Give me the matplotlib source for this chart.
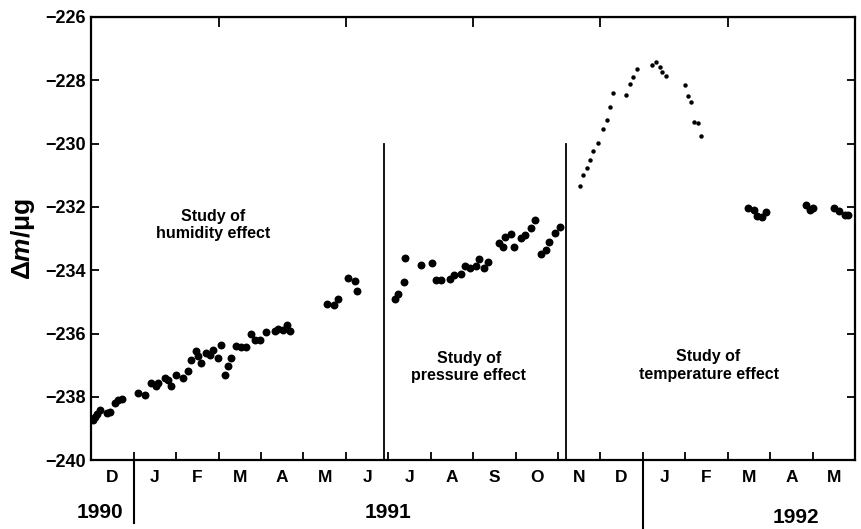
import matplotlib.pyplot as plt
import numpy as np

plt.rcParams['font.family'] = ['Liberation Sans', 'DejaVu Sans']
plt.rcParams['font.weight'] = 'bold'
plt.rcParams['mathtext.fontset'] = 'custom'
plt.rcParams['mathtext.rm'] = 'Liberation Sans:bold'
plt.rcParams['mathtext.it'] = 'Liberation Sans:bold:italic'

# czas w miesiacach od 1 XII 1990, masa w ug
hum_t = [0.03, 0.08, 0.14, 0.2, 0.36, 0.45, 0.55, 0.63, 0.72, 1.1, 1.27, 1.41, 1.53,
         1.58, 1.74, 1.81, 1.88, 2.0, 2.16, 2.28, 2.35, 2.47, 2.52, 2.59, 2.71, 2.8,
         2.87, 2.99, 3.06, 3.16, 3.23, 3.3, 3.41, 3.53, 3.65, 3.77, 3.86, 3.98, 4.12,
         4.33, 4.4, 4.52, 4.61, 4.68, 5.55, 5.71, 5.81, 6.06, 6.22, 6.27]
hum_dm = [-238.72, -238.62, -238.55, -238.42, -238.52, -238.48, -238.2, -238.1, -238.06,
          -237.88, -237.95, -237.57, -237.66, -237.57, -237.41, -237.47, -237.67, -237.31,
          -237.41, -237.19, -236.84, -236.56, -236.72, -236.94, -236.62, -236.68, -236.52,
          -236.78, -236.36, -237.31, -237.03, -236.78, -236.4, -236.43, -236.43, -236.02,
          -236.21, -236.21, -235.96, -235.93, -235.84, -235.9, -235.74, -235.93,
          -235.06, -235.09, -234.9, -234.26, -234.33, -234.65]

pres_t = [7.15, 7.22, 7.36, 7.4, 7.76, 8.02, 8.12, 8.24, 8.45, 8.54, 8.71, 8.8, 8.92,
          9.06, 9.15, 9.25, 9.36, 9.62, 9.71, 9.76, 9.9, 9.97, 10.14, 10.23, 10.36,
          10.45, 10.61, 10.71, 10.8, 10.92, 11.04]
pres_dm = [-234.91, -234.75, -234.38, -233.62, -233.83, -233.77, -234.3, -234.3, -234.27,
           -234.15, -234.11, -233.86, -233.93, -233.86, -233.63, -233.93, -233.74, -233.15,
           -233.28, -232.96, -232.87, -233.28, -232.99, -232.9, -232.68, -232.4, -233.5,
           -233.37, -233.12, -232.83, -232.64]

temp_t = [11.51, 11.6, 11.69, 11.76, 11.83, 11.94, 12.06, 12.16, 12.22, 12.29, 12.61,
          12.7, 12.77, 12.86, 13.21, 13.3, 13.4, 13.45, 13.54, 13.99, 14.06, 14.13, 14.21,
          14.3, 14.36]
temp_dm = [-231.34, -230.99, -230.77, -230.51, -230.23, -229.97, -229.53, -229.24, -228.83,
           -228.39, -228.48, -228.13, -227.91, -227.66, -227.53, -227.43, -227.59, -227.75,
           -227.87, -228.15, -228.5, -228.69, -229.32, -229.35, -229.76]

late_t = [15.49, 15.61, 15.7, 15.82, 15.91, 16.84, 16.93, 17.0, 17.5, 17.62, 17.76, 17.83]
late_dm = [-232.03, -232.1, -232.28, -232.31, -232.15, -231.95, -232.11, -232.05, -232.04,
           -232.13, -232.26, -232.26]

months = ['D', 'J', 'F', 'M', 'A', 'M', 'J', 'J', 'A', 'S', 'O', 'N', 'D', 'J', 'F', 'M', 'A', 'M']
years = ['1990', '1991', '1992']
year_x = [0.76, 7.0, 16.6]
year_start = [1, 13]
study_lines = [6.9, 11.19]

fig = plt.figure(figsize=(8.61, 5.29), dpi=100)
ax = fig.add_axes([0.106, 0.130, 0.887, 0.838])

ax.plot(hum_t, hum_dm, 'o', color='black', ms=5.7, mew=0)
ax.plot(pres_t, pres_dm, 'o', color='black', ms=5.7, mew=0)
ax.plot(late_t, late_dm, 'o', color='black', ms=5.7, mew=0)
ax.plot(temp_t, temp_dm, 'o', color='black', ms=3.2, mew=0)

for xl in study_lines:
    ax.plot([xl, xl], [-240, -230], color='black', lw=1.3)

ax.set_xlim(0, 18)
ax.set_ylim(-240, -226)
ax.set_yticks(np.arange(-240, -225, 2))
ax.set_xticks(np.arange(1, 18))
ax.set_xticklabels([])
ax.tick_params(axis='both', direction='in', length=6, width=1.3, labelsize=13)
ax.tick_params(axis='y', right=True, pad=4)
for sp in ax.spines.values():
    sp.set_linewidth(1.6)

top = ax.secondary_xaxis('top')
top.set_xticks([3, 6, 9, 12, 15])
top.set_xticklabels([])
top.tick_params(direction='in', length=7, width=1.3)

ax.set_ylabel('Δ$m$/μg', fontsize=19, fontweight='bold', labelpad=6)

tr = ax.get_xaxis_transform()
for i, m in enumerate(months):
    ax.text(i + 0.5, -0.038, m, transform=tr, ha='center', va='center', fontsize=12.5)
ax.text(year_x[0], -0.118, years[0], transform=tr, ha='right', va='center', fontsize=15)
ax.text(year_x[1], -0.118, years[1], transform=tr, ha='center', va='center', fontsize=15)
ax.text(year_x[2], -0.129, years[2], transform=tr, ha='center', va='center', fontsize=15)
ax.plot([year_start[0]] * 2, [0, -0.142], transform=tr, color='black', lw=1.5, clip_on=False)
ax.plot([year_start[1]] * 2, [0, -0.16], transform=tr, color='black', lw=1.5, clip_on=False)

ax.text(2.88, -232.58, 'Study of\nhumidity effect', ha='center', va='center',
        fontsize=11.5, linespacing=1.2)
ax.text(8.9, -237.05, 'Study of\npressure effect', ha='center', va='center',
        fontsize=11.5, linespacing=1.2)
ax.text(14.55, -237.01, 'Study of\ntemperature effect', ha='center', va='center',
        fontsize=11.5, linespacing=1.2)

fig.savefig('out.png', dpi=100)
